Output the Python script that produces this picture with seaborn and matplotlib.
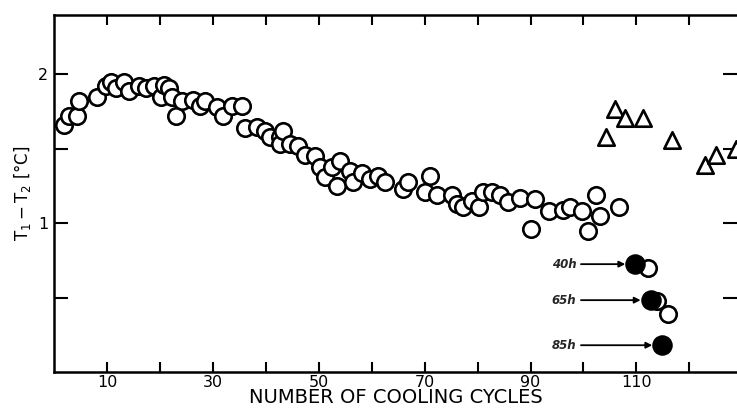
import numpy as np
import pandas as pd
import seaborn as sns
import matplotlib.pyplot as plt

# open circles: temperature difference vs number of cooling cycles
cycles_open = [1.9, 2.8, 4.3, 4.7, 8.1, 9.8, 10.8, 11.7, 13.2, 14.2, 16.1, 17.4, 18.9,
               20.2, 20.8, 21.7, 22.3, 23.1, 24.2, 26.3, 27.6, 28.5, 30.8, 31.9, 33.6,
               35.5, 36.1, 38.4, 39.9, 40.8, 42.7, 42.7, 43.3, 44.6, 46.1, 47.4, 49.3,
               50.3, 51.2, 52.6, 53.5, 54.1, 56.0, 56.5, 58.2, 59.7, 61.2, 62.6, 66.0,
               66.9, 70.1, 71.1, 72.4, 75.2, 76.2, 77.3, 79.0, 80.2, 81.1, 82.8, 84.3,
               85.8, 88.1, 90.0, 90.9, 93.4, 96.2, 97.5, 99.8, 100.8, 102.3, 103.2, 106.8]
dT_open = [1.66, 1.72, 1.72, 1.82, 1.85, 1.92, 1.95, 1.91, 1.95, 1.89, 1.92, 1.91, 1.92,
           1.85, 1.93, 1.91, 1.85, 1.72, 1.82, 1.83, 1.79, 1.82, 1.78, 1.72, 1.79,
           1.79, 1.64, 1.65, 1.62, 1.58, 1.58, 1.53, 1.62, 1.53, 1.52, 1.46, 1.45,
           1.38, 1.31, 1.38, 1.25, 1.42, 1.35, 1.28, 1.34, 1.30, 1.32, 1.28, 1.23,
           1.28, 1.21, 1.32, 1.19, 1.19, 1.13, 1.11, 1.15, 1.11, 1.21, 1.21, 1.19,
           1.14, 1.17, 0.96, 1.16, 1.08, 1.09, 1.11, 1.08, 0.95, 1.19, 1.05, 1.11]

# triangles
cycles_tri = [104.3, 106.0, 107.9, 111.2, 116.8, 122.9, 125.1, 128.9]
dT_tri = [1.58, 1.77, 1.71, 1.71, 1.56, 1.39, 1.46, 1.50]

# open circles after ageing
cycles_aged = [112.1, 113.8, 115.9]
dT_aged = [0.70, 0.48, 0.39]

# filled circles (aged samples) and their labels
cycles_filled = [109.8, 112.7, 114.9]
dT_filled = [0.725, 0.483, 0.18]
age_labels = ['40h', '65h', '85h']

fig = plt.figure(figsize=(7.37, 4.11), dpi=100)
ax = fig.add_axes([54 / 737, 1 - 372 / 411, 1 - 54 / 737, (372 - 15) / 411])
sns.set_style('white')

sns.scatterplot(x=cycles_open, y=dT_open, ax=ax, marker='o', s=140,
                color='white', edgecolor='black', linewidth=1.9, zorder=3)
sns.scatterplot(x=cycles_tri, y=dT_tri, ax=ax, marker='^', s=140,
                color='white', edgecolor='black', linewidth=1.9, zorder=3)
sns.scatterplot(x=cycles_aged, y=dT_aged, ax=ax, marker='o', s=140,
                color='white', edgecolor='black', linewidth=1.9, zorder=3)
sns.scatterplot(x=cycles_filled, y=dT_filled, ax=ax, marker='o', s=190,
                color='black', edgecolor='black', linewidth=1, zorder=4)

# arrows pointing at the filled circles
for xf, yf, lab in zip(cycles_filled, dT_filled, age_labels):
    ax.annotate(lab, xy=(xf - 1.9, yf), xytext=(94.0, yf),
                ha='left', va='center', fontsize=8.5, fontstyle='italic', fontweight='bold',
                arrowprops=dict(arrowstyle='-|>', color='black', lw=1.3,
                                mutation_scale=9, shrinkA=1, shrinkB=0))

ax.set_xlim(0, 129)
ax.set_ylim(0, 2.4)
ax.set_xticks(np.arange(10, 121, 20))
ax.set_xticks(np.arange(20, 130, 20), minor=True)
ax.set_xticklabels([str(v) for v in range(10, 121, 20)])
ax.set_yticks([1, 2])
ax.set_yticks([0.5, 1.5], minor=True)
ax.set_yticklabels(['1', '2'])

ax.tick_params(axis='both', which='both', direction='in', top=True, right=True,
               width=1.5, colors='black', labelsize=11.5)
ax.tick_params(axis='x', which='both', length=7, pad=2)
ax.tick_params(axis='y', which='both', length=10, pad=4)

for side in ['left', 'bottom', 'top']:
    ax.spines[side].set_linewidth(1.8)
    ax.spines[side].set_color('black')
ax.spines['right'].set_visible(False)

ax.set_xlabel('NUMBER OF COOLING CYCLES', fontsize=14, labelpad=-1)
ax.set_ylabel(r'$\mathrm{T_1 - T_2}$ [°C]', fontsize=12, labelpad=4)

fig.savefig('out.png', dpi=100)
